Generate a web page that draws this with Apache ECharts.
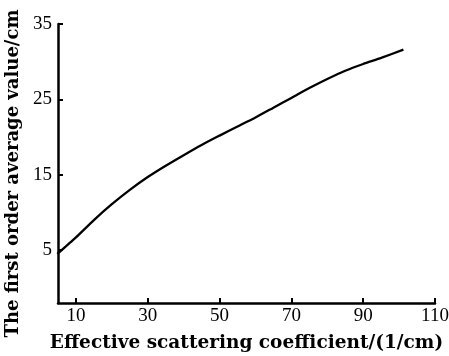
<!DOCTYPE html>
<html>
<head>
<meta charset="utf-8">
<script src="https://cdn.jsdelivr.net/npm/echarts@6/dist/echarts.min.js"></script>
<style>html,body{margin:0;padding:0;background:#fff}#c{width:449px;height:356px}</style>
</head>
<body>
<div id="c"></div>
<script>
const xValues = [4.8, 10, 15, 20, 25, 30, 35, 40, 45, 50, 55, 60, 65, 70, 75, 80, 85, 90, 95, 101.2];
const yValues = [4.5, 6.7, 9.0, 11.1, 13.0, 14.7, 16.2, 17.6, 18.95, 20.2, 21.4, 22.6, 23.9, 25.2, 26.5, 27.7, 28.8, 29.7, 30.5, 31.6];
const xTicks = [10, 30, 50, 70, 90, 110];
const yTicks = [5, 15, 25, 35];
const xName = 'Effective scattering coefficient/(1/cm)';
const yName = 'The first order average value/cm';

const chart = echarts.init(document.getElementById('c'), null, {renderer: 'canvas'});
const serif = '"Liberation Serif", "DejaVu Serif", serif';
const nameFont = '"DejaVu Serif", "Liberation Serif", serif';
chart.setOption({
  animation: false,
  backgroundColor: '#fff',
  grid: {left: 58, right: 14, top: 24, bottom: 53, containLabel: false, outerBoundsMode: 'none'},
  xAxis: {
    type: 'value', min: 5, max: 110,
    name: xName, nameLocation: 'middle', nameGap: 31,
    nameTextStyle: {fontFamily: nameFont, fontWeight: 'bold', fontSize: 18.5, color: '#000'},
    axisLine: {show: true, onZero: false, lineStyle: {color: '#000', width: 2.5}},
    axisTick: {show: true, inside: true, length: 5, customValues: xTicks, lineStyle: {color: '#000', width: 2}},
    axisLabel: {customValues: xTicks, margin: 4, fontFamily: serif, fontSize: 19, color: '#000'},
    splitLine: {show: false}
  },
  yAxis: {
    type: 'value', min: -2, max: 35,
    name: yName, nameLocation: 'middle', nameGap: 35,
    nameTextStyle: {fontFamily: nameFont, fontWeight: 'bold', fontSize: 18, color: '#000', padding: [0, 20, 0, 0]},
    axisLine: {show: true, onZero: false, lineStyle: {color: '#000', width: 2.5}},
    axisTick: {show: true, inside: true, length: 5, customValues: yTicks, lineStyle: {color: '#000', width: 2}},
    axisLabel: {customValues: yTicks, margin: 6, fontFamily: serif, fontSize: 19, color: '#000'},
    splitLine: {show: false}
  },
  series: [{
    type: 'line',
    data: xValues.map((x, i) => [x, yValues[i]]),
    smooth: 0.2,
    showSymbol: false,
    lineStyle: {color: '#000', width: 2.3}
  }]
});
</script>
</body>
</html>
